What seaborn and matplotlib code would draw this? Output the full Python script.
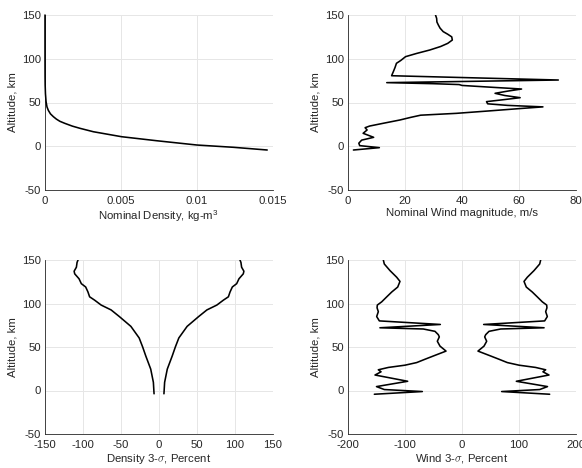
import matplotlib
matplotlib.use("Agg")
import matplotlib.pyplot as plt
import seaborn as sns

# Nominal density profile
dens_alt = [-4.3, -1.2, 1.4, 6.3, 10.9, 16.6, 20.5, 23.0, 26.2, 28.5, 31.0,
            33.8, 37.0, 41.0, 45.0, 51.0, 60.0, 70.0, 80.0, 100.0, 125.0, 150.0]
dens_val = [0.01462, 0.0124, 0.0100, 0.00735, 0.00504, 0.00318, 0.0023,
            0.0018, 0.0013, 0.00098, 0.00075, 0.00055, 0.00036, 0.00022,
            0.00013, 0.00007, 0.00003, 0.00001, 0.000004, 0.0000006,
            0.00000005, 0.00000001]

# Nominal wind magnitude profile
wind_alt = [-4.3, -1.6, 0.7, 3.5, 7.0, 10.2, 14.8, 18.6, 21.2, 23.1, 26.2,
            30.0, 33.0, 35.5, 37.6, 40.5, 43.0, 45.0, 46.7, 48.5, 51.0, 53.0,
            55.5, 58.0, 60.5, 63.0, 65.4, 67.5, 69.5, 70.5, 71.5, 72.7, 75.7,
            80.6, 85.2, 90.0, 94.8, 98.0, 102.4, 106.0, 110.0, 114.0, 117.6,
            121.4, 125.0, 128.0, 131.0, 135.0, 138.6, 142.0, 146.2, 150.0]
wind_val = [1.9, 11.0, 4.1, 3.8, 4.8, 9.0, 5.3, 6.7, 6.0, 7.6, 12.3,
            18.2, 22.0, 25.5, 38.0, 50.0, 60.0, 68.4, 56.0, 49.0, 48.6, 54.0,
            60.4, 55.0, 51.6, 56.0, 60.9, 50.0, 40.0, 39.0, 30.0, 13.6, 73.8,
            15.3, 15.9, 16.5, 17.0, 18.5, 20.2, 24.0, 28.7, 32.5, 35.0,
            36.6, 36.4, 35.0, 33.4, 32.3, 31.7, 31.2, 31.1, 30.7]

# Density 3-sigma dispersion (lower bound; upper bound is its mirror)
dsig_alt = [-3.8, 9.4, 24.6, 39.7, 50.0, 60.4, 73.7, 85.0, 92.6, 98.2, 103.9,
            107.7, 113.3, 119.0, 122.8, 128.4, 134.1, 137.1, 141.7, 147.3, 150.0]
dsig_val = [-6.5, -7.4, -10.9, -17.4, -21.5, -26.1, -37.0, -52.2, -63.0, -76.1,
            -84.8, -91.3, -93.5, -96.5, -102.2, -105.2, -110.9, -111.7, -108.7,
            -107.8, -106.5]

# Wind 3-sigma dispersion (lower bound; upper bound is its mirror)
wsig_alt = [-4.3, -1.2, 1.1, 4.5, 10.6, 17.8, 21.5, 23.8, 26.5, 29.1, 32.1,
            35.9, 40.4, 45.3, 51.0, 56.6, 61.6, 64.2, 68.0, 70.7, 72.1, 75.9,
            80.0, 85.0, 90.6, 95.0, 98.2, 101.9, 107.6, 113.2, 118.9, 125.4,
            130.2, 137.8, 145.4, 150.0]
wsig_val = [-153.8, -69.6, -136.3, -150.0, -95.3, -152.6, -142.0, -146.8,
            -129.2, -100.0, -79.5, -65.0, -47.4, -28.0, -38.6, -43.3, -39.8,
            -41.6, -47.4, -67.9, -144.0, -38.0, -145.0, -149.7, -146.8, -149.0,
            -148.6, -140.9, -132.1, -123.3, -112.8, -108.8, -114.6, -126.3,
            -136.3, -138.0]

sns.set_style("white")
plt.rcParams["font.family"] = ["Liberation Sans", "DejaVu Sans"]
plt.rcParams["mathtext.fontset"] = "cm"

FS = 8.2
TXT = "#262626"
GRID = "#e6e6e6"
LW = 1.15

fig = plt.figure(figsize=(5.82, 4.68), dpi=100)
W, H = 228 / 582, 175 / 468
ax_tl = fig.add_axes([45 / 582, 1 - 190 / 468, W, H])
ax_tr = fig.add_axes([348 / 582, 1 - 190 / 468, W, H])
ax_bl = fig.add_axes([45 / 582, 1 - 434 / 468, W, 174 / 468])
ax_br = fig.add_axes([348 / 582, 1 - 434 / 468, W, 174 / 468])


def line(ax, x, y, clip=True):
    sns.lineplot(x=x, y=y, sort=False, estimator=None, color="black",
                 linewidth=LW, ax=ax, zorder=3)
    ax.lines[-1].set_clip_on(clip)


def style(ax, xlim, xticks, xticklabels, xlabel):
    ax.set_xlim(*xlim)
    ax.set_ylim(-50, 150)
    ax.set_xticks(xticks)
    ax.set_xticklabels(xticklabels)
    ax.set_yticks([-50, 0, 50, 100, 150])
    ax.set_yticklabels(["-50", "0", "50", "100", "150"])
    ax.grid(True, color=GRID, linewidth=0.7)
    ax.set_axisbelow(True)
    for s in ("top", "right"):
        ax.spines[s].set_visible(False)
    for s in ("left", "bottom"):
        ax.spines[s].set_color(TXT)
        ax.spines[s].set_linewidth(0.6)
    ax.tick_params(direction="in", length=2, width=0.6, colors=TXT,
                   labelsize=FS, pad=3)
    ax.tick_params(axis="x", pad=4)
    ax.set_xlabel(xlabel, fontsize=FS, color=TXT, labelpad=1.5)
    ax.set_ylabel("Altitude, km", fontsize=FS, color=TXT, labelpad=3)


line(ax_tl, dens_val, dens_alt, clip=False)
style(ax_tl, (0, 0.015), [0, 0.005, 0.01, 0.015],
      ["0", "0.005", "0.01", "0.015"],
      r"Nominal Density, kg-m$^{\mathregular{3}}$")

line(ax_tr, wind_val, wind_alt)
style(ax_tr, (0, 80), [0, 20, 40, 60, 80], ["0", "20", "40", "60", "80"],
      "Nominal Wind magnitude, m/s")

line(ax_bl, dsig_val, dsig_alt)
line(ax_bl, [-v for v in dsig_val], dsig_alt)
style(ax_bl, (-150, 150), [-150, -100, -50, 0, 50, 100, 150],
      ["-150", "-100", "-50", "0", "50", "100", "150"],
      r"Density 3-$\sigma$, Percent")

line(ax_br, wsig_val, wsig_alt)
line(ax_br, [-v for v in wsig_val], wsig_alt)
style(ax_br, (-200, 200), [-200, -100, 0, 100, 200],
      ["-200", "-100", "0", "100", "200"],
      r"Wind 3-$\sigma$, Percent")

fig.savefig("out.png", dpi=100, facecolor="white")
